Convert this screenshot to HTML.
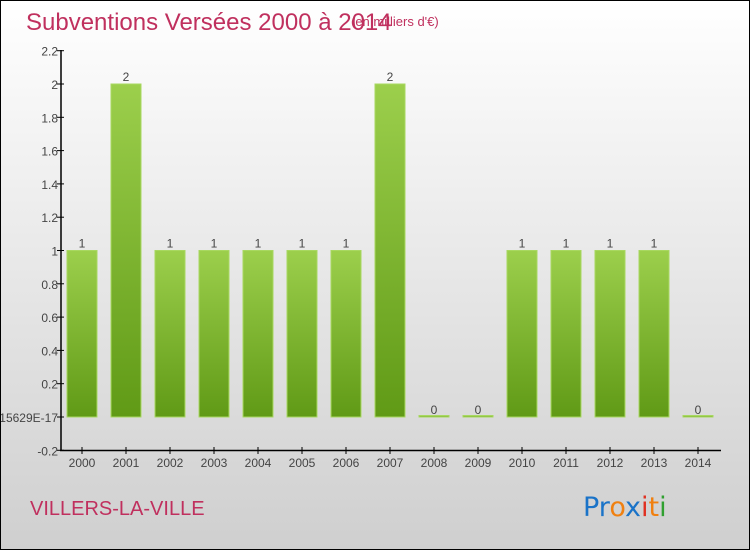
<!DOCTYPE html>
<html><head><meta charset="utf-8"><style>
body{margin:0;}
#wrap{position:relative;width:748px;height:548px;border:1px solid #000;background:linear-gradient(#ffffff,#cfcfcf);font-family:"Liberation Sans",sans-serif;overflow:hidden;}
</style></head><body>
<div id="wrap">
<svg id="chart" width="748" height="548" viewBox="1 1 748 548" style="position:absolute;left:0;top:0">
<defs><linearGradient id="bg" x1="0" y1="0" x2="0" y2="1"><stop offset="0" stop-color="#9ccf4c"/><stop offset="1" stop-color="#609a16"/></linearGradient></defs>
<text x="26" y="30" font-size="24" fill="#c0305e">Subventions Versées 2000 à 2014</text>
<text x="351" y="26" font-size="13" fill="#c0305e">(en milliers d'€)</text>
<text x="30" y="515" font-size="20" fill="#c0305e">VILLERS-LA-VILLE</text>
<g font-size="27" font-family="'DejaVu Sans',sans-serif">
<text x="583" y="516"><tspan fill="#1a73c8">Pr</tspan><tspan fill="#f08010">o</tspan><tspan fill="#1a73c8">x</tspan><tspan fill="#e03020">i</tspan><tspan fill="#f08010">t</tspan><tspan fill="#30a030">i</tspan></text>
</g>
<g id="axes"></g><g id="bars"></g>
</svg>
</div>
<script>
const categories=["2000","2001","2002","2003","2004","2005","2006","2007","2008","2009","2010","2011","2012","2013","2014"];
const values=[1,2,1,1,1,1,1,2,0,0,1,1,1,1,0];
const valueLabels=["1","2","1","1","1","1","1","2","0","0","1","1","1","1","0"];
const yTicks=[-0.2,0,0.2,0.4,0.6,0.8,1,1.2,1.4,1.6,1.8,2,2.2];
const yTickLabels=["-0.2","2.15629E-17","0.2","0.4","0.6","0.8","1","1.2","1.4","1.6","1.8","2","2.2"];
const NS="http://www.w3.org/2000/svg";
const y=v=>417-(v*166.5);
const x=i=>82+i*44;
const ax=document.getElementById('axes'),bs=document.getElementById('bars');
function mk(t,a,p){const e=document.createElementNS(NS,t);for(const k in a)e.setAttribute(k,a[k]);p.appendChild(e);return e;}
let l=mk('line',{x1:61,y1:50,x2:61,y2:451,stroke:'#000','stroke-width':1.5},ax);


l=mk('line',{x1:60,y1:450.5,x2:721,y2:450.5,stroke:'#000','stroke-width':1.5},ax);


yTicks.forEach((v,i)=>{
 mk('line',{x1:57,y1:y(v),x2:64,y2:y(v),stroke:'#000'},ax);
 const t=mk('text',{x:58,y:y(v)+5,'font-size':12,fill:'#444','text-anchor':'end'},ax);
 t.textContent=yTickLabels[i];
 
 
});
categories.forEach((c,i)=>{
 mk('line',{x1:x(i),y1:447,x2:x(i),y2:454,stroke:'#000'},ax);
 const t=mk('text',{x:x(i),y:467,'font-size':12,fill:'#444','text-anchor':'middle'},ax);
 t.textContent=c;
 
 
 const top=y(values[i]),h=Math.max(y(0)-top,1.5);
 const r=mk('rect',{x:x(i)-15,y:Math.min(top,y(0)-1.5),width:30,height:h,fill:'url(#bg)',stroke:'#a8d860','stroke-width':1},bs);
 
 
 const vt=mk('text',{x:x(i),y:Math.min(top,y(0))-3,'font-size':12,fill:'#444','text-anchor':'middle'},bs);
 vt.textContent=valueLabels[i];
 
 
});
</script>
</body></html>
